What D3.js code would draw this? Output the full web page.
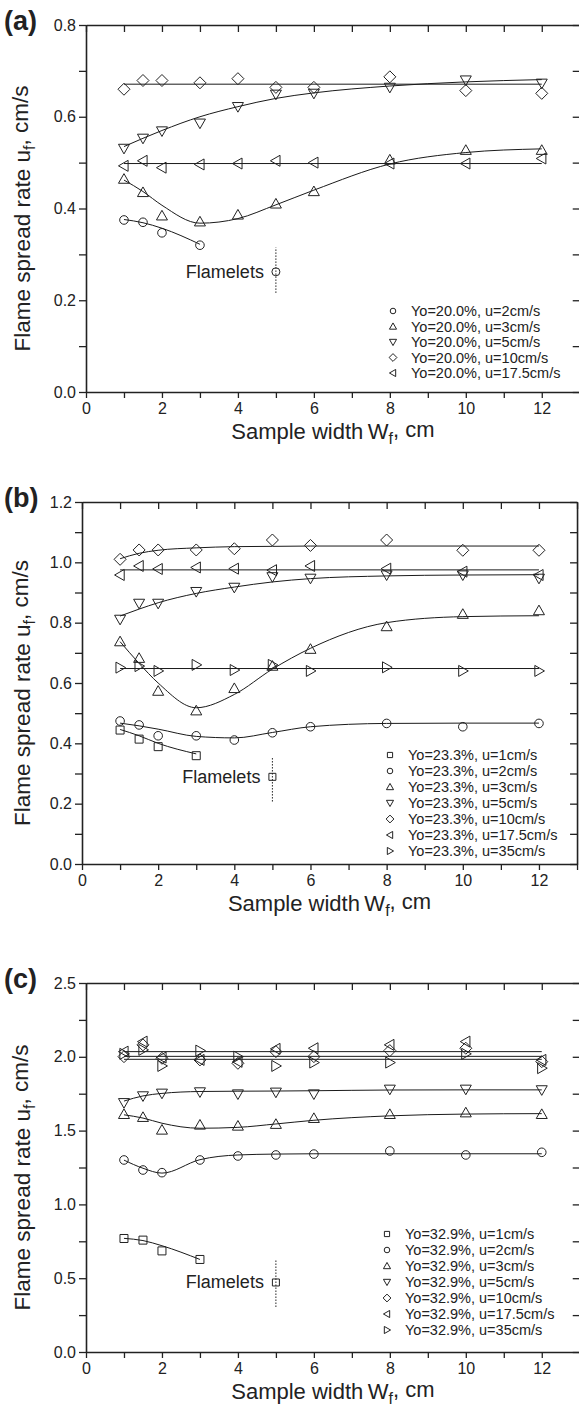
<!DOCTYPE html>
<html>
<head>
<meta charset="utf-8">
<script src="https://cdn.jsdelivr.net/npm/d3@7"></script>
<style>
body { margin: 0; background: #fff; }
svg text { font-family: "Liberation Sans", Arial, Helvetica, sans-serif; fill: #222; }
</style>
</head>
<body>
<svg id="chart" width="579" height="1413"></svg>
<script>
// sample widths (cm) used for all the runs
const widths = [1, 1.5, 2, 3, 4, 5, 6, 8, 10, 12];
const widthsLow = [1, 1.5, 2, 3];
const flatEnds = [1, 12];
const xTicks = [0, 1, 2, 3, 4, 5, 6, 7, 8, 9, 10, 11, 12, 13];

// (a) Yo = 20.0%
const aLabels = ['Yo=20.0%, u=2cm/s', 'Yo=20.0%, u=3cm/s', 'Yo=20.0%, u=5cm/s', 'Yo=20.0%, u=10cm/s', 'Yo=20.0%, u=17.5cm/s'];
const aU2 = [0.375, 0.370, 0.347, 0.320];
const aU3 = [0.464, 0.435, 0.384, 0.371, 0.386, 0.410, 0.437, 0.506, 0.527, 0.527];
const aU5 = [0.531, 0.553, 0.569, 0.586, 0.622, 0.649, 0.651, 0.664, 0.680, 0.673];
const aU10 = [0.660, 0.679, 0.679, 0.674, 0.683, 0.664, 0.664, 0.687, 0.657, 0.651];
const aU17 = [0.493, 0.504, 0.489, 0.496, 0.498, 0.504, 0.500, 0.498, 0.498, 0.509];
const aFlamelet = [0.262, 0.216, 0.315];
const aFitU2 = [0.376, 0.369, 0.357, 0.322];
const aFitU3 = [0.462, 0.437, 0.407, 0.368, 0.378, 0.408, 0.440, 0.497, 0.522, 0.530];
const aFitU5 = [0.535, 0.553, 0.570, 0.600, 0.622, 0.640, 0.652, 0.667, 0.676, 0.681];
const aFitU10 = [0.671, 0.671];
const aFitU17 = [0.498, 0.498];
const aYTicks = [0, 0.1, 0.2, 0.3, 0.4, 0.5, 0.6, 0.7, 0.8];

// (b) Yo = 23.3%
const bLabels = ['Yo=23.3%, u=1cm/s', 'Yo=23.3%, u=2cm/s', 'Yo=23.3%, u=3cm/s', 'Yo=23.3%, u=5cm/s', 'Yo=23.3%, u=10cm/s', 'Yo=23.3%, u=17.5cm/s', 'Yo=23.3%, u=35cm/s'];
const bU1 = [0.444, 0.414, 0.389, 0.359];
const bU2 = [0.474, 0.461, 0.425, 0.425, 0.411, 0.435, 0.455, 0.466, 0.455, 0.466];
const bU3 = [0.737, 0.682, 0.573, 0.508, 0.582, 0.656, 0.712, 0.787, 0.828, 0.840];
const bU5 = [0.811, 0.864, 0.864, 0.903, 0.917, 0.952, 0.947, 0.958, 0.958, 0.947];
const bU10 = [1.010, 1.041, 1.041, 1.041, 1.045, 1.074, 1.056, 1.074, 1.040, 1.040];
const bU17 = [0.958, 0.988, 0.978, 0.983, 0.979, 0.974, 0.988, 0.979, 0.969, 0.958];
const bU35 = [0.651, 0.656, 0.640, 0.660, 0.643, 0.660, 0.640, 0.652, 0.640, 0.640];
const bFlamelet = [0.289, 0.207, 0.356];
const bFitU1 = [0.446, 0.425, 0.400, 0.365];
const bFitU2 = [0.467, 0.458, 0.447, 0.423, 0.418, 0.436, 0.455, 0.466, 0.467, 0.467];
const bFitU3 = [0.737, 0.665, 0.600, 0.518, 0.562, 0.646, 0.715, 0.800, 0.820, 0.823];
const bFitU5 = [0.822, 0.845, 0.866, 0.897, 0.918, 0.935, 0.946, 0.955, 0.958, 0.959];
const bFitU10 = [1.012, 1.030, 1.040, 1.048, 1.052, 1.053, 1.054, 1.054, 1.054, 1.054];
const bFitU17 = [0.975, 0.975];
const bFitU35 = [0.648, 0.648];
const bYTicks = [0, 0.1, 0.2, 0.3, 0.4, 0.5, 0.6, 0.7, 0.8, 0.9, 1.0, 1.1, 1.2];

// (c) Yo = 32.9%
const cLabels = ['Yo=32.9%, u=1cm/s', 'Yo=32.9%, u=2cm/s', 'Yo=32.9%, u=3cm/s', 'Yo=32.9%, u=5cm/s', 'Yo=32.9%, u=10cm/s', 'Yo=32.9%, u=17.5cm/s', 'Yo=32.9%, u=35cm/s'];
const cU1 = [0.769, 0.758, 0.685, 0.627];
const cU2 = [1.301, 1.233, 1.215, 1.301, 1.328, 1.335, 1.341, 1.362, 1.335, 1.353];
const cU3 = [1.610, 1.590, 1.504, 1.538, 1.531, 1.543, 1.583, 1.610, 1.621, 1.610];
const cU5 = [1.689, 1.735, 1.753, 1.762, 1.748, 1.760, 1.748, 1.780, 1.780, 1.776];
const cU10 = [2.001, 2.081, 1.990, 1.979, 1.956, 2.035, 2.001, 2.042, 2.058, 1.967];
const cU17 = [2.035, 2.103, 1.995, 1.979, 1.966, 2.054, 2.058, 2.081, 2.103, 1.979];
const cU35 = [2.020, 2.047, 1.938, 2.042, 2.001, 1.938, 1.961, 1.961, 2.020, 1.923];
const cFlamelet = [0.471, 0.305, 0.622];
const cFitU1 = [0.770, 0.755, 0.720, 0.627];
const cFitU2 = [1.300, 1.245, 1.212, 1.303, 1.335, 1.341, 1.343, 1.343, 1.343, 1.343];
const cFitU3 = [1.607, 1.585, 1.550, 1.516, 1.522, 1.545, 1.570, 1.600, 1.612, 1.615];
const cFitU5 = [1.700, 1.735, 1.752, 1.765, 1.767, 1.768, 1.770, 1.775, 1.776, 1.776];
const cFitU10 = [2.003, 2.003];
const cFitU17 = [2.035, 2.035];
const cFitU35 = [1.983, 1.983];
const cYTicks = [0, 0.25, 0.5, 0.75, 1.0, 1.25, 1.5, 1.75, 2.0, 2.25, 2.5];

const svg = d3.select('#chart');
const ink = '#222';

// open marker shapes
function symPath(type, s) {
  switch (type) {
    case 'circle': return 'M' + s + ',0A' + s + ',' + s + ' 0 1,1 ' + (-s) + ',0A' + s + ',' + s + ' 0 1,1 ' + s + ',0Z';
    case 'square': return 'M' + (-s) + ',' + (-s) + 'H' + s + 'V' + s + 'H' + (-s) + 'Z';
    case 'up': return 'M0,' + (-s) + 'L' + s + ',' + (s * 0.75) + 'L' + (-s) + ',' + (s * 0.75) + 'Z';
    case 'down': return 'M0,' + s + 'L' + s + ',' + (-s * 0.75) + 'L' + (-s) + ',' + (-s * 0.75) + 'Z';
    case 'left': return 'M' + (-s) + ',0L' + (s * 0.75) + ',' + (-s) + 'L' + (s * 0.75) + ',' + s + 'Z';
    case 'right': return 'M' + s + ',0L' + (-s * 0.75) + ',' + (-s) + 'L' + (-s * 0.75) + ',' + s + 'Z';
    case 'diamond': return 'M0,' + (-s) + 'L' + s + ',0L0,' + s + 'L' + (-s) + ',0Z';
  }
}
const symSize = {circle: 4.3, square: 4, up: 5.5, down: 5.5, left: 5.5, right: 5.5, diamond: 6};

function drawPanel(p) {
  let x = d3.scaleLinear().domain([0, 13]).range([p.left, p.left + 13 * p.unit]);
  let y = d3.scaleLinear().domain([0, p.yTicks[p.yTicks.length - 1]]).range([p.bottom, p.top]);
  let g = svg.append('g');
  let right = x(13);

  // fitted curves
  let line = d3.line().x(d => x(d[0])).y(d => y(d[1])).curve(d3.curveMonotoneX);
  p.fits.forEach(function(f) {
    g.append('path')
      .attr('d', line(f.x.map((v, i) => [v, f.y[i]])))
      .attr('fill', 'none')
      .attr('stroke', '#1a1a1a')
      .attr('stroke-width', 1);
  });

  // data markers
  p.series.forEach(function(s) {
    g.selectAll(null)
      .data(s.x.map((v, i) => [v, s.y[i]]))
      .enter().append('path')
      .attr('d', symPath(s.sym, symSize[s.sym]))
      .attr('transform', d => 'translate(' + x(d[0]) + ',' + y(d[1]) + ')')
      .attr('fill', 'none')
      .attr('stroke', ink)
      .attr('stroke-width', 1);
  });

  // flamelets point with its dotted range
  g.append('line')
    .attr('x1', x(5)).attr('x2', x(5))
    .attr('y1', y(p.flamelet[1])).attr('y2', y(p.flamelet[2]))
    .attr('stroke', ink).attr('stroke-width', 1)
    .attr('stroke-dasharray', '1.5,1.5');
  g.append('path')
    .attr('d', symPath(p.flameletSym, p.flameletSym === 'circle' ? 4 : 3.5))
    .attr('transform', 'translate(' + x(5) + ',' + y(p.flamelet[0]) + ')')
    .attr('fill', 'none').attr('stroke', ink).attr('stroke-width', 1);
  g.append('text')
    .attr('x', x(5) - 12)
    .attr('y', y(p.flamelet[0]) + 6)
    .attr('text-anchor', 'end')
    .attr('font-size', '18px')
    .text('Flamelets');

  // axes
  let yFmt = d => (Math.abs(d / p.yStep - Math.round(d / p.yStep)) < 1e-6) ? d3.format('.1f')(d) : '';
  g.append('g')
    .attr('transform', 'translate(' + p.left + ',0)')
    .call(d3.axisLeft(y).tickValues(p.yTicks).tickSize(7).tickPadding(3).tickSizeOuter(0).tickFormat(yFmt));
  g.append('g')
    .attr('transform', 'translate(' + right + ',0)')
    .call(d3.axisLeft(y).tickValues(p.yTicks).tickSize(7).tickSizeOuter(0).tickFormat(''));
  g.append('g')
    .attr('transform', 'translate(0,' + p.bottom + ')')
    .call(d3.axisBottom(x).tickValues(xTicks).tickSize(6).tickPadding(5).tickSizeOuter(0).tickFormat(d => d % 2 === 0 ? d : ''));
  g.append('g')
    .attr('transform', 'translate(0,' + p.top + ')')
    .call(d3.axisBottom(x).tickValues(xTicks).tickSize(7).tickSizeOuter(0).tickFormat(''));
  g.selectAll('.domain').attr('stroke', ink).attr('stroke-width', 1.6);
  g.selectAll('.tick line').attr('stroke', ink).attr('stroke-width', 1.3);
  g.selectAll('.tick text').attr('font-size', '16px').attr('fill', ink)
    .attr('font-family', '"Liberation Sans", Arial, sans-serif');

  // axis titles
  let yt = g.append('text')
    .attr('transform', 'translate(30,' + ((p.top + p.bottom) / 2 + 10) + ') rotate(-90)')
    .attr('text-anchor', 'middle')
    .attr('font-size', '22.5px');
  yt.append('tspan').text('Flame spread rate u');
  yt.append('tspan').attr('font-size', '16px').attr('dy', '0.3em').text('f');
  yt.append('tspan').attr('dy', '-0.3em').text(', cm/s');

  let xt = g.append('text')
    .attr('x', (p.left + right) / 2)
    .attr('y', p.bottom + 47)
    .attr('text-anchor', 'middle')
    .attr('font-size', '22px');
  xt.append('tspan').text('Sample width\u2009W');
  xt.append('tspan').attr('font-size', '16px').attr('dy', '0.3em').text('f');
  xt.append('tspan').attr('dy', '-0.3em').text(', cm');

  // panel tag
  g.append('text')
    .attr('x', 4).attr('y', p.top + 5)
    .attr('font-size', '27px').attr('font-weight', 'bold')
    .attr('fill', '#111')
    .text(p.tag);

  // legend
  p.series.forEach(function(s, i) {
    let ly = p.legend.y0 + i * p.legend.dy;
    g.append('path')
      .attr('d', symPath(s.sym, symSize[s.sym] * 0.65))
      .attr('transform', 'translate(' + p.legend.sx + ',' + ly + ')')
      .attr('fill', 'none').attr('stroke', ink).attr('stroke-width', 1);
    g.append('text')
      .attr('x', p.legend.tx).attr('y', ly + 5)
      .attr('font-size', '14.5px')
      .text(s.label);
  });
}

drawPanel({
  tag: '(a)', top: 25, bottom: 392, left: 86, unit: 37.98,
  yTicks: aYTicks, yStep: 0.2,
  series: [
    {x: widthsLow, y: aU2, sym: 'circle', label: aLabels[0]},
    {x: widths, y: aU3, sym: 'up', label: aLabels[1]},
    {x: widths, y: aU5, sym: 'down', label: aLabels[2]},
    {x: widths, y: aU10, sym: 'diamond', label: aLabels[3]},
    {x: widths, y: aU17, sym: 'left', label: aLabels[4]}
  ],
  fits: [
    {x: widthsLow, y: aFitU2}, {x: widths, y: aFitU3}, {x: widths, y: aFitU5},
    {x: flatEnds, y: aFitU10}, {x: flatEnds, y: aFitU17}
  ],
  flamelet: aFlamelet, flameletSym: 'circle',
  legend: {sx: 393, tx: 411, y0: 311, dy: 15.5}
});

drawPanel({
  tag: '(b)', top: 502, bottom: 864, left: 82, unit: 38.08,
  yTicks: bYTicks, yStep: 0.2,
  series: [
    {x: widthsLow, y: bU1, sym: 'square', label: bLabels[0]},
    {x: widths, y: bU2, sym: 'circle', label: bLabels[1]},
    {x: widths, y: bU3, sym: 'up', label: bLabels[2]},
    {x: widths, y: bU5, sym: 'down', label: bLabels[3]},
    {x: widths, y: bU10, sym: 'diamond', label: bLabels[4]},
    {x: widths, y: bU17, sym: 'left', label: bLabels[5]},
    {x: widths, y: bU35, sym: 'right', label: bLabels[6]}
  ],
  fits: [
    {x: widthsLow, y: bFitU1}, {x: widths, y: bFitU2}, {x: widths, y: bFitU3},
    {x: widths, y: bFitU5}, {x: widths, y: bFitU10},
    {x: flatEnds, y: bFitU17}, {x: flatEnds, y: bFitU35}
  ],
  flamelet: bFlamelet, flameletSym: 'square',
  legend: {sx: 390, tx: 408, y0: 755, dy: 16}
});

drawPanel({
  tag: '(c)', top: 983, bottom: 1352, left: 86, unit: 37.98,
  yTicks: cYTicks, yStep: 0.5,
  series: [
    {x: widthsLow, y: cU1, sym: 'square', label: cLabels[0]},
    {x: widths, y: cU2, sym: 'circle', label: cLabels[1]},
    {x: widths, y: cU3, sym: 'up', label: cLabels[2]},
    {x: widths, y: cU5, sym: 'down', label: cLabels[3]},
    {x: widths, y: cU10, sym: 'diamond', label: cLabels[4]},
    {x: widths, y: cU17, sym: 'left', label: cLabels[5]},
    {x: widths, y: cU35, sym: 'right', label: cLabels[6]}
  ],
  fits: [
    {x: widthsLow, y: cFitU1}, {x: widths, y: cFitU2}, {x: widths, y: cFitU3},
    {x: widths, y: cFitU5},
    {x: flatEnds, y: cFitU10}, {x: flatEnds, y: cFitU17}, {x: flatEnds, y: cFitU35}
  ],
  flamelet: cFlamelet, flameletSym: 'square',
  legend: {sx: 387, tx: 405, y0: 1234, dy: 16}
});
</script>
</body>
</html>
